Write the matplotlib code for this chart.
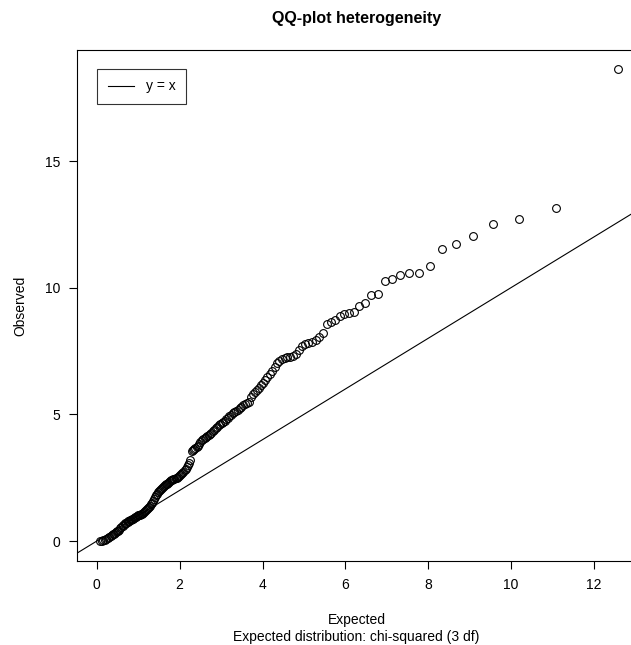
import matplotlib
matplotlib.use("Agg")
import matplotlib.pyplot as plt

plt.rcParams['font.family'] = ['Liberation Sans', 'DejaVu Sans']

# expected chi-squared (3 df) quantiles
expected = [0.08, 0.12, 0.16, 0.20, 0.23, 0.27, 0.30, 0.33, 0.36, 0.38, 0.41, 0.44, 0.46, 0.49, 0.52, 0.54,
            0.57, 0.59, 0.62, 0.64, 0.67, 0.69, 0.71, 0.74, 0.76, 0.78, 0.81, 0.83, 0.86, 0.88, 0.90, 0.93,
            0.95, 0.97, 1.00, 1.02, 1.04, 1.07, 1.09, 1.11, 1.14, 1.16, 1.18, 1.21, 1.23, 1.25, 1.28, 1.30,
            1.33, 1.35, 1.37, 1.40, 1.42, 1.45, 1.47, 1.49, 1.52, 1.54, 1.57, 1.59, 1.62, 1.64, 1.67, 1.69,
            1.72, 1.74, 1.77, 1.80, 1.82, 1.85, 1.87, 1.90, 1.93, 1.95, 1.98, 2.01, 2.04, 2.06, 2.09, 2.12,
            2.15, 2.18, 2.20, 2.23, 2.26, 2.29, 2.32, 2.35, 2.38, 2.41, 2.44, 2.47, 2.50, 2.54, 2.57, 2.60,
            2.63, 2.66, 2.70, 2.73, 2.76, 2.80, 2.83, 2.87, 2.90, 2.94, 2.98, 3.01, 3.05, 3.09, 3.12, 3.16,
            3.20, 3.24, 3.28, 3.32, 3.36, 3.40, 3.45, 3.49, 3.53, 3.58, 3.62, 3.67, 3.72, 3.76, 3.81, 3.86,
            3.91, 3.96, 4.01, 4.07, 4.12, 4.18, 4.23, 4.29, 4.35, 4.41, 4.47, 4.54, 4.60, 4.67, 4.74, 4.81,
            4.88, 4.95, 5.03, 5.11, 5.19, 5.28, 5.37, 5.46, 5.55, 5.65, 5.75, 5.86, 5.97, 6.09, 6.21, 6.34,
            6.48, 6.63, 6.78, 6.95, 7.13, 7.33, 7.54, 7.78, 8.04, 8.34, 8.68, 9.08, 9.57, 10.20, 11.08, 12.58]

# observed heterogeneity statistics (sorted)
observed = [0.00, 0.02, 0.03, 0.05, 0.08, 0.12, 0.15, 0.18, 0.22, 0.26, 0.29, 0.32, 0.35, 0.38, 0.41, 0.45,
            0.50, 0.55, 0.58, 0.62, 0.66, 0.70, 0.72, 0.75, 0.78, 0.80, 0.82, 0.84, 0.86, 0.88, 0.90, 0.93,
            0.96, 0.99, 1.01, 1.03, 1.04, 1.06, 1.08, 1.10, 1.14, 1.18, 1.22, 1.26, 1.30, 1.35, 1.40, 1.45,
            1.52, 1.58, 1.64, 1.72, 1.80, 1.86, 1.92, 1.96, 2.00, 2.04, 2.08, 2.12, 2.16, 2.20, 2.24, 2.27,
            2.30, 2.33, 2.36, 2.39, 2.41, 2.44, 2.46, 2.48, 2.50, 2.52, 2.55, 2.59, 2.64, 2.69, 2.74, 2.80,
            2.86, 2.93, 3.00, 3.08, 3.20, 3.55, 3.60, 3.64, 3.68, 3.72, 3.77, 3.83, 3.90, 3.97, 4.03, 4.07,
            4.10, 4.13, 4.17, 4.22, 4.27, 4.33, 4.40, 4.46, 4.52, 4.57, 4.61, 4.65, 4.70, 4.75, 4.80, 4.86,
            4.92, 4.98, 5.04, 5.09, 5.14, 5.18, 5.24, 5.30, 5.37, 5.42, 5.46, 5.50, 5.70, 5.82, 5.90, 5.98,
            6.05, 6.14, 6.24, 6.35, 6.48, 6.60, 6.72, 6.86, 7.02, 7.12, 7.18, 7.22, 7.25, 7.28, 7.32, 7.40,
            7.55, 7.70, 7.77, 7.80, 7.84, 7.92, 8.06, 8.22, 8.57, 8.66, 8.72, 8.89, 8.96, 9.01, 9.03, 9.29,
            9.38, 9.72, 9.75, 10.28, 10.34, 10.51, 10.58, 10.59, 10.85, 11.54, 11.73, 12.03, 12.51, 12.71, 13.16, 18.63]

x_ticks = [0, 2, 4, 6, 8, 10, 12]
y_ticks = [0, 5, 10, 15]

fig = plt.figure(figsize=(6.31, 6.45), dpi=100)
# plot box runs slightly past the right edge of the image, like the original
ax = fig.add_axes([0.122, 0.1302, 0.886, 0.7922])

ax.plot([-1, 20], [-1, 20], color='black', lw=0.8, label='y = x')
ax.plot(expected, observed, 'o', mfc='none', mec='black', mew=0.8, ms=5.6, ls='none')

ax.set_xlim(-0.48, 13.02)
ax.set_ylim(-0.79, 19.38)
ax.set_xticks(x_ticks)
ax.set_yticks(y_ticks)
ax.tick_params(direction='out', length=6, width=0.8, labelsize=10, pad=6)
for s in ax.spines.values():
    s.set_linewidth(0.8)

ax.set_xlabel('Expected\nExpected distribution: chi-squared (3 df)', fontsize=10, labelpad=15,
              linespacing=1.35)
ax.set_ylabel('Observed', fontsize=10, labelpad=13)
ax.set_title('QQ-plot heterogeneity', fontsize=11.5, fontweight='bold', pad=19.5)

leg = ax.legend(loc='upper left', bbox_to_anchor=(0.036, 0.963), borderaxespad=0, frameon=True,
                fancybox=False, edgecolor='black', fontsize=10, handlelength=1.9, borderpad=0.75,
                handletextpad=0.85)
leg.get_frame().set_linewidth(0.8)

fig.savefig('out.png')
